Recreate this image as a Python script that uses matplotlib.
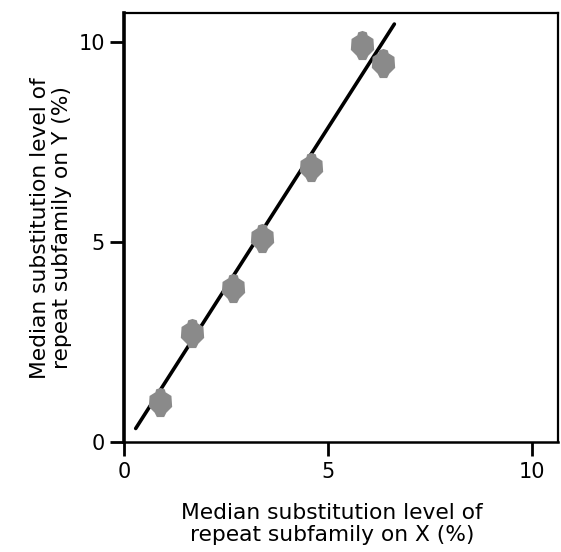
import numpy as np
import matplotlib
matplotlib.use("Agg")
import matplotlib.pyplot as plt

# median substitution levels (%) per repeat subfamily
x_vals = [0.88, 1.66, 2.67, 3.39, 4.58, 5.84, 6.36]
y_vals = [1.01, 2.72, 3.85, 5.09, 6.88, 9.92, 9.46]

# fitted line
fit_slope = 1.59
fit_intercept = -0.10
fit_x = [0.28, 6.63]

ticks = [0, 5, 10]

W, H = 561, 552
fig = plt.figure(figsize=(W / 100, H / 100), dpi=100)
ax = fig.add_axes([124.3 / W, 1 - 442.3 / H, (557.7 - 124.3) / W, (442.3 - 13.3) / H])

plt.rcParams['font.family'] = ['DejaVu Sans']

# blob-like marker, a bit taller than wide
blob = [(0, 1), (0.3, 0.9), (0.35, 0.7), (0.75, 0.45), (0.8, -0.3), (0.4, -0.7),
        (0.25, -1), (-0.25, -1), (-0.4, -0.7), (-0.8, -0.3), (-0.75, 0.45),
        (-0.35, 0.7), (-0.3, 0.9), (0, 1)]

lx = np.array(fit_x)
ax.plot(lx, fit_slope * lx + fit_intercept, color='black', lw=2.6, zorder=2,
        solid_capstyle='round')
ax.plot(x_vals, y_vals, linestyle='none', marker=blob, markersize=21,
        color='#8a8a8a', markeredgewidth=0, zorder=3)

ax.set_xlim(0, 10.64)
ax.set_ylim(0, 10.71)
ax.set_xticks(ticks)
ax.set_yticks(ticks)
ax.tick_params(axis='both', length=10, width=2, labelsize=15, pad=4)

for s in ax.spines.values():
    s.set_linewidth(1.6)
ax.spines['left'].set_linewidth(2.6)
ax.spines['bottom'].set_linewidth(1.8)

fig.text(332 / W, 1 - 524 / H, "Median substitution level of\nrepeat subfamily on X (%)",
         ha='center', va='center', fontsize=15.7, linespacing=1.1)
fig.text(51 / W, 1 - 228 / H, "Median substitution level of\nrepeat subfamily on Y (%)",
         ha='center', va='center', rotation=90, fontsize=15.7, linespacing=1.1)

fig.savefig("out.png", dpi=100)
